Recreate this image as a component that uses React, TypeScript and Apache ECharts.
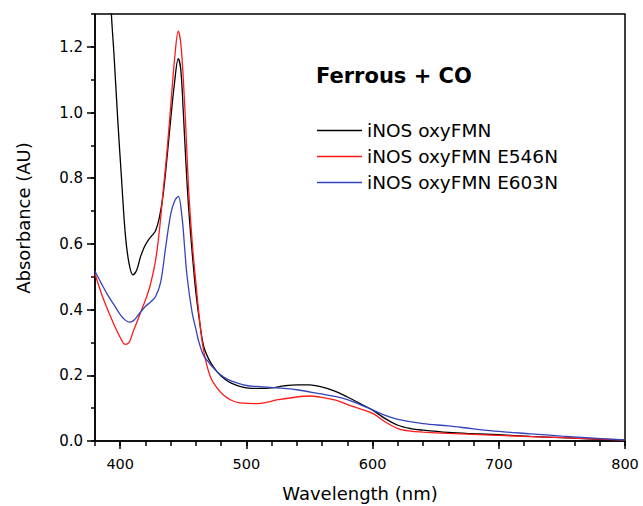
import React, { useEffect, useRef } from "react";
import * as echarts from "echarts";

const seriesNames = ["iNOS oxyFMN", "iNOS oxyFMN E546N", "iNOS oxyFMN E603N"];
const seriesColors = ["#000000", "#ff1a1a", "#3344bb"];

const blackNm = [380,385,390,393,395,398,401,404,407,410,413,416,419,422,425,428,431,434,437,440,443,446,448,450,452,454,456,458,460,463,466,470,474,478,483,488,494,500,510,520,530,540,550,558,570,580,590,600,610,620,630,640,660,680,700,725,750,775,800];
const blackAbs = [2.6,2.1,1.6,1.3,1.18,0.98,0.8,0.63,0.54,0.506,0.52,0.56,0.59,0.61,0.625,0.64,0.68,0.75,0.86,0.98,1.09,1.164,1.13,1.0,0.85,0.72,0.62,0.53,0.45,0.36,0.29,0.25,0.225,0.205,0.188,0.176,0.167,0.162,0.16,0.162,0.168,0.171,0.171,0.166,0.152,0.134,0.114,0.094,0.068,0.048,0.038,0.033,0.026,0.022,0.019,0.014,0.01,0.006,0.002];

const redNm = [380,385,390,395,400,404,407,410,414,418,421,424,428,431,434,437,440,443,446,448,450,452,454,456,458,460,462,465,468,472,477,482,488,495,508,515,524,540,550,558,570,580,590,600,610,620,630,640,660,700,750,800];
const redAbs = [0.509,0.45,0.4,0.355,0.315,0.294,0.3,0.33,0.37,0.41,0.44,0.478,0.55,0.64,0.76,0.88,1.02,1.16,1.248,1.21,1.1,0.95,0.78,0.66,0.56,0.48,0.4,0.3,0.24,0.19,0.16,0.139,0.124,0.116,0.114,0.117,0.125,0.134,0.137,0.134,0.125,0.111,0.098,0.084,0.058,0.038,0.03,0.027,0.023,0.017,0.01,0.003];

const blueNm = [380,385,390,395,400,404,407,410,413,416,420,424,428,432,436,440,443,446,449,451,453,457,460,462,466,470,474,480,486,493,500,508,516,524,540,558,570,580,590,600,610,620,640,660,680,700,725,750,775,800];
const blueAbs = [0.517,0.48,0.445,0.415,0.385,0.368,0.362,0.365,0.377,0.392,0.41,0.423,0.44,0.483,0.59,0.691,0.73,0.745,0.68,0.59,0.5,0.39,0.34,0.306,0.26,0.24,0.222,0.2,0.186,0.176,0.169,0.166,0.164,0.162,0.156,0.144,0.136,0.126,0.111,0.095,0.078,0.066,0.053,0.046,0.037,0.029,0.022,0.015,0.009,0.003];

const xMajorTicks = [400, 500, 600, 700, 800];
const yMajorTicks = [0, 0.2, 0.4, 0.6, 0.8, 1.0, 1.2];

const FONT = "DejaVu Sans";

export default function App() {
  const ref = useRef<HTMLDivElement>(null);
  useEffect(() => {
    if (!ref.current) return;
    const chart = echarts.init(ref.current, null, { renderer: "svg" });
    const pairs = (xs: number[], ys: number[]) => xs.map((x, i) => [x, ys[i]]);
    const datasets = [pairs(blackNm, blackAbs), pairs(redNm, redAbs), pairs(blueNm, blueAbs)];
    const axisLine = { show: true, lineStyle: { color: "#000", width: 1.5 } };
    chart.setOption({
      animation: false,
      backgroundColor: "#fff",
      grid: {
        left: 95, right: 18, top: 14, bottom: 65,
        show: true, borderColor: "#000", borderWidth: 1.5, backgroundColor: "transparent",
      },
      title: {
        text: "Ferrous + CO",
        left: 316, top: 65, padding: 0,
        textStyle: { fontFamily: FONT, fontSize: 21, fontWeight: "bold", color: "#000" },
      },
      legend: {
        orient: "vertical",
        left: 317, top: 121, padding: 0,
        icon: "rect",
        itemWidth: 45, itemHeight: 1.4, itemGap: 7,
        data: seriesNames,
        textStyle: { fontFamily: FONT, fontSize: 18.5, color: "#000", lineHeight: 18 },
      },
      xAxis: [
        {
          type: "value", min: 380, max: 800, interval: 20, position: "bottom",
          axisLine, splitLine: { show: false },
          axisTick: { show: true, length: 5, lineStyle: { color: "#000", width: 1.5 } },
          axisLabel: { show: false },
        },
        {
          type: "value", min: 380, max: 800, position: "bottom",
          axisLine: { show: false }, splitLine: { show: false },
          axisTick: { show: true, length: 8, customValues: xMajorTicks, lineStyle: { color: "#000", width: 1.5 } },
          axisLabel: { show: true, customValues: xMajorTicks, margin: 15, fontFamily: FONT, fontSize: 14.5, color: "#000" },
        },
      ],
      yAxis: [
        {
          type: "value", min: 0, max: 1.3, interval: 0.1, position: "left",
          axisLine, splitLine: { show: false },
          axisTick: { show: true, length: 4, lineStyle: { color: "#000", width: 1.5 } },
          axisLabel: { show: false },
        },
        {
          type: "value", min: 0, max: 1.3, position: "left",
          axisLine: { show: false }, splitLine: { show: false },
          axisTick: { show: true, length: 8, customValues: yMajorTicks, lineStyle: { color: "#000", width: 1.5 } },
          axisLabel: {
            show: true, customValues: yMajorTicks, margin: 12, fontFamily: FONT, fontSize: 15, color: "#000",
            formatter: (v: number) => v.toFixed(1),
          },
        },
      ],
      graphic: [
        {
          type: "text", x: 23, y: 218, rotation: Math.PI / 2,
          style: { text: "Absorbance (AU)", fontFamily: FONT, fontSize: 18, fill: "#000", align: "center", verticalAlign: "middle" },
        },
        {
          type: "text", x: 360, y: 493,
          style: { text: "Wavelength (nm)", fontFamily: FONT, fontSize: 18, fill: "#000", align: "center", verticalAlign: "middle" },
        },
      ],
      series: datasets.map((d, i) => ({
        name: seriesNames[i],
        type: "line",
        xAxisIndex: 0, yAxisIndex: 0,
        data: d,
        symbol: "none",
        smooth: 0.35,
        clip: true,
        color: seriesColors[i],
        lineStyle: { color: seriesColors[i], width: 1.3 },
      })),
    });
    return () => chart.dispose();
  }, []);
  return <div ref={ref} style={{ position: "fixed", left: 0, top: 0, width: 643, height: 506 }} />;
}
